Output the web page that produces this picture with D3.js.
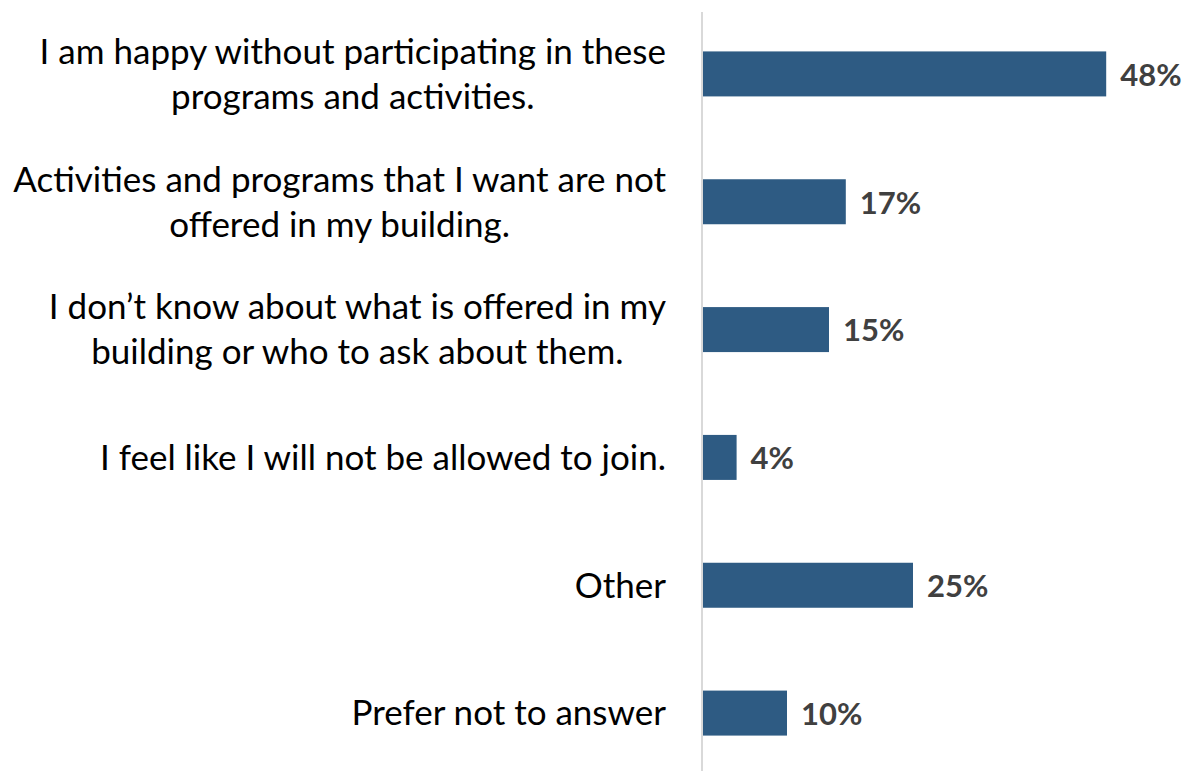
<!DOCTYPE html>
<html>
<head>
<meta charset="utf-8">
<script src="https://cdn.jsdelivr.net/npm/d3@7"></script>
<style>
  html, body { margin: 0; padding: 0; background: #ffffff; }
  svg { display: block; }
</style>
</head>
<body>
<svg id="chart" width="1189" height="771"></svg>
<script>
// Reasons for not taking part in building programs and activities
const categories = [
  ["I am happy without participating in these", "programs and activities."],
  ["Activities and programs that I want are not", "offered in my building."],
  ["I don\u2019t know about what is offered in my", "building or who to ask about them."],
  ["I feel like I will not be allowed to join."],
  ["Other"],
  ["Prefer not to answer"]
];
const values = [0.48, 0.17, 0.15, 0.04, 0.25, 0.10];
const valueLabels = ["48%", "17%", "15%", "4%", "25%", "10%"];

const W = 1189, H = 771;
const axisX = 702;
const labelRight = 666;
const barColor = "#2e5b83";
const labelFont = "Lato, 'Open Sans', sans-serif";

const svg = d3.select("#chart");

const idx = d3.range(categories.length);

const x = d3.scaleLinear().domain([0, 0.5]).range([axisX + 1, axisX + 1 + 420]);
const y = d3.scaleBand().domain(idx).range([10, 777]).paddingInner(0.648).paddingOuter(0.324);

// bars
svg.append("g").selectAll("rect")
  .data(idx)
  .join("rect")
  .attr("x", x(0))
  .attr("y", i => y(i))
  .attr("width", i => x(values[i]) - x(0))
  .attr("height", y.bandwidth())
  .attr("fill", barColor);

// vertical category axis line
svg.append("line")
  .attr("x1", axisX).attr("x2", axisX)
  .attr("y1", 12).attr("y2", H)
  .attr("stroke", "#d9d9d9")
  .attr("stroke-width", 2);

// value labels
svg.append("g").selectAll("text")
  .data(idx)
  .join("text")
  .attr("x", i => x(values[i]) + 14)
  .attr("y", i => y(i) + y.bandwidth() / 2)
  .attr("dy", "0.38em")
  .attr("font-family", labelFont)
  .attr("font-weight", "bold")
  .attr("font-size", 31)
  .attr("fill", "#404040")
  .text(i => valueLabels[i]);

// category labels: each block right-aligned, lines centered within it
const lineH = 45;
const catG = svg.append("g");
idx.forEach(i => {
  const lines = categories[i];
  const g = catG.append("g");
  const cy = y(i) + y.bandwidth() / 2;
  const texts = lines.map((ln, k) =>
    g.append("text")
      .attr("y", cy + (k - (lines.length - 1) / 2) * lineH)
      .attr("dy", "0.35em")
      .attr("font-family", labelFont)
      .attr("font-size", 35)
      .attr("fill", "#000000")
      .attr("text-anchor", "middle")
      .text(ln)
  );
  const maxW = d3.max(texts, t => t.node().getComputedTextLength());
  texts.forEach(t => t.attr("x", labelRight - maxW / 2));
});
</script>
</body>
</html>
